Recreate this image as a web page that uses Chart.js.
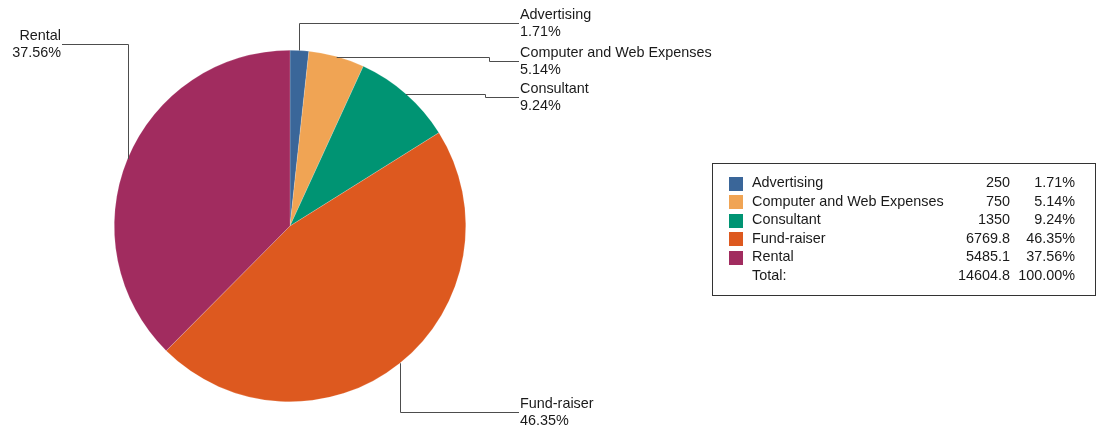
<!DOCTYPE html>
<html>
<head>
<meta charset="utf-8">
<script src="https://cdn.jsdelivr.net/npm/chart.js@4/dist/chart.umd.min.js"></script>
<style>
  html, body { margin: 0; padding: 0; background: #fff; }
  #wrap { width: 1096px; height: 436px; position: relative; }
</style>
</head>
<body>
<div id="wrap"><canvas id="pieChart" width="1096" height="436"></canvas></div>
<script>
const categories = ['Advertising', 'Computer and Web Expenses', 'Consultant', 'Fund-raiser', 'Rental'];
const amounts = [250, 750, 1350, 6769.8, 5485.1];
const percents = ['1.71%', '5.14%', '9.24%', '46.35%', '37.56%'];
const totalAmount = '14604.8';
const totalPercent = '100.00%';
const colors = ['#3a6699', '#f0a454', '#009473', '#dd591f', '#a12c5f'];

// leader line routes: 'v' = vertical then horizontal, 'h' = horizontal, jog, horizontal
const leaders = [
  {route: 'v', ty: 23, tx: 519, side: 'right'},
  {route: 'h', jx: 489, ty: 61, tx: 519, side: 'right'},
  {route: 'h', jx: 485, ty: 97, tx: 519, side: 'right'},
  {route: 'v', ty: 412, tx: 519, side: 'right'},
  {route: 'v', ty: 44, tx: 62, side: 'left'}
];

const FONT = '14.4px "Liberation Sans", Arial, sans-serif';
const TEXT = '#1a1a1a';

const labelPlugin = {
  id: 'leaderLabels',
  afterDraw(chart){
    const ctx = chart.ctx;
    const arcs = chart.getDatasetMeta(0).data;
    ctx.save();
    ctx.strokeStyle = '#4d4d4d';
    ctx.lineWidth = 1;
    ctx.font = FONT;
    ctx.fillStyle = TEXT;
    ctx.textBaseline = 'middle';
    arcs.forEach((arc, i)=>{
      const L = leaders[i];
      const mid = (arc.startAngle + arc.endAngle) / 2;
      const sx = arc.x + Math.cos(mid) * arc.outerRadius;
      const sy = arc.y + Math.sin(mid) * arc.outerRadius;
      const pts = [[sx, sy]];
      if(L.route == 'v'){
        pts.push([Math.round(sx) + 0.5, L.ty + 0.5]);
        pts.push([L.tx, L.ty + 0.5]);
        pts[0][0] = Math.round(sx) + 0.5;
      }else{
        pts[0][1] = Math.round(sy) + 0.5;
        pts.push([L.jx + 0.5, Math.round(sy) + 0.5]);
        pts.push([L.jx + 0.5, L.ty + 0.5]);
        pts.push([L.tx, L.ty + 0.5]);
      }
      ctx.beginPath();
      ctx.moveTo(pts[0][0], pts[0][1]);
      for(let k = 1; k < pts.length; k++) ctx.lineTo(pts[k][0], pts[k][1]);
      ctx.stroke();
      if(L.side == 'right'){
        ctx.textAlign = 'left';
        ctx.fillText(categories[i], L.tx + 1, L.ty - 8);
        ctx.fillText(percents[i], L.tx + 1, L.ty + 9);
      }else{
        ctx.textAlign = 'right';
        ctx.fillText(categories[i], L.tx - 1, L.ty - 8);
        ctx.fillText(percents[i], L.tx - 1, L.ty + 9);
      }
    });

    // legend table
    const bx = 712, by = 163, bw = 383, bh = 132;
    ctx.strokeStyle = '#333';
    ctx.strokeRect(bx + 0.5, by + 0.5, bw, bh);
    const rowY = (r)=> 183.5 + r * 18.5;
    categories.forEach((c, i)=>{
      const y = rowY(i);
      ctx.fillStyle = colors[i];
      ctx.fillRect(729, Math.round(y) - 7, 14, 14);
      ctx.fillStyle = TEXT;
      ctx.textAlign = 'left';
      ctx.fillText(c, 752, y);
      ctx.textAlign = 'right';
      ctx.fillText(String(amounts[i]), 1010, y);
      ctx.fillText(percents[i], 1075, y);
    });
    const ty = rowY(5);
    ctx.textAlign = 'left';
    ctx.fillText('Total:', 752, ty);
    ctx.textAlign = 'right';
    ctx.fillText(totalAmount, 1010, ty);
    ctx.fillText(totalPercent, 1075, ty);
    ctx.restore();
  }
};

const pie = document.getElementById('pieChart');
new Chart(pie, {
  type: 'pie',
  data: {
    labels: categories,
    datasets: [{
      data: amounts,
      backgroundColor: colors,
      borderColor: 'rgba(255,255,255,0.35)',
      borderWidth: 0.5
    }]
  },
  options: {
    responsive: false,
    animation: false,
    layout: { padding: { left: 114, right: 630, top: 50, bottom: 34 } },
    plugins: {
      legend: { display: false },
      tooltip: { enabled: false }
    }
  },
  plugins: [labelPlugin]
});
</script>
</body>
</html>
